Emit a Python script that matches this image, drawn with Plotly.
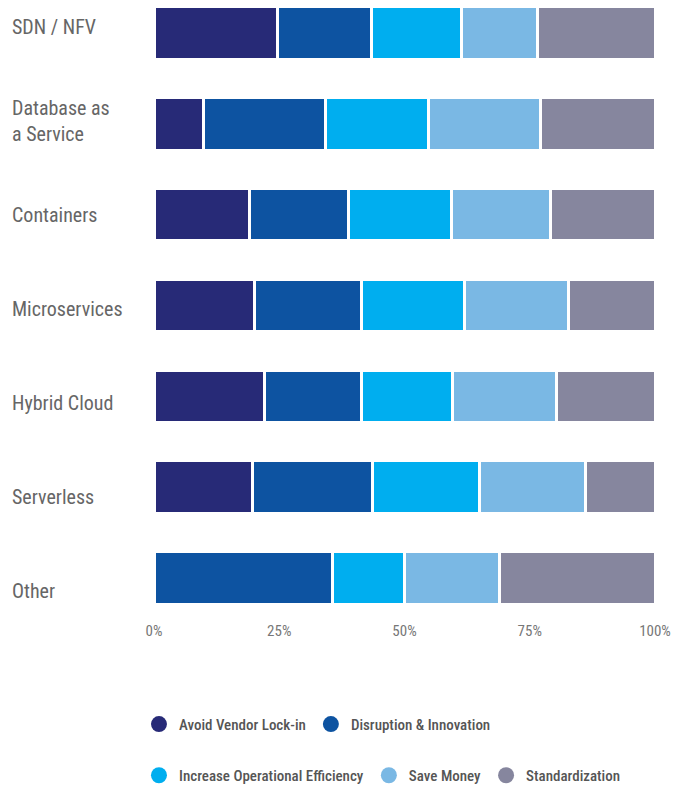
import plotly.graph_objects as go

categories = ["SDN / NFV", "Database as a Service", "Containers", "Microservices",
              "Hybrid Cloud", "Serverless", "Other"]
category_labels = ["SDN / NFV", "Database as<br>a Service", "Containers", "Microservices",
                   "Hybrid Cloud", "Serverless", "Other"]
series_names = ["Avoid Vendor Lock-in", "Disruption & Innovation",
                "Increase Operational Efficiency", "Save Money", "Standardization"]

avoid_vendor_lock_in = [24.6, 9.9, 19.1, 20.0, 22.1, 19.6, 0.0]
disruption_innovation = [18.8, 24.4, 19.7, 21.5, 19.4, 24.0, 35.7]
operational_efficiency = [18.0, 20.4, 20.5, 20.4, 18.0, 21.4, 14.2]
save_money = [15.1, 22.4, 19.8, 20.9, 20.8, 21.1, 19.0]
standardization = [23.5, 22.9, 20.9, 17.2, 19.7, 13.9, 31.1]

tick_values = [0, 25, 50, 75, 100]
tick_labels = ["0%", "25%", "50%", "75%", "100%"]

series_values = [avoid_vendor_lock_in, disruption_innovation, operational_efficiency,
                 save_money, standardization]
colors = ["#272a77", "#0d53a1", "#00aeef", "#7ab8e4", "#86869e"]

FONT = "Liberation Sans Narrow, Roboto Condensed, Arial Narrow, sans-serif"

fig = go.Figure()
for name, vals, col in zip(series_names, series_values, colors):
    fig.add_trace(go.Bar(
        y=categories, x=vals, orientation="h", name=name,
        marker=dict(color=col, line=dict(color="white", width=3)),
        width=0.58, showlegend=False, hoverinfo="skip",
    ))

for i, (name, col) in enumerate(zip(series_names, colors)):
    fig.add_trace(go.Scatter(
        x=[None], y=[None], mode="markers", name=name,
        marker=dict(symbol="circle", size=16, color=col),
        legend="legend" if i < 2 else "legend2", showlegend=True,
    ))

annotations = []
for i, (cat, lab) in enumerate(zip(categories, category_labels)):
    annotations.append(dict(
        x=-0.287, xref="paper", xanchor="left",
        y=cat, yref="y", yanchor="middle",
        yshift=6 - 3.2 * i,
        text=lab, showarrow=False, align="left",
        font=dict(family=FONT, size=20, color="#666666"),
    ))

legend_common = dict(
    orientation="h", xanchor="left", yanchor="middle", traceorder="normal",
    font=dict(family=FONT, size=15, color="#555555", weight=500),
    bgcolor="rgba(0,0,0,0)", itemclick=False, itemdoubleclick=False,
)

fig.update_layout(
    width=673, height=792, autosize=False,
    margin=dict(l=154, r=18, t=0, b=177),
    plot_bgcolor="white", paper_bgcolor="white",
    barmode="stack", bargap=0.4,
    xaxis=dict(range=[0, 100], tickvals=tick_values, ticktext=tick_labels,
               showgrid=False, zeroline=False, showline=False, ticks="",
               ticklabelstandoff=9,
               tickfont=dict(family=FONT, size=15, color="#777777"), fixedrange=True),
    yaxis=dict(type="category", categoryorder="array", categoryarray=categories,
               range=[6.36, -0.36], showticklabels=False, showgrid=False,
               zeroline=False, showline=False, fixedrange=True),
    legend=dict(x=-0.03, y=-0.1855, **legend_common),
    legend2=dict(x=-0.03, y=-0.27, **legend_common),
    annotations=annotations,
    showlegend=True,
)

fig.write_html("out.html")
